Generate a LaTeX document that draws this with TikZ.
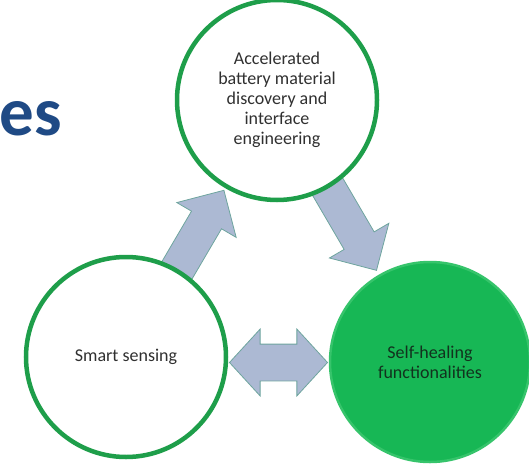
\documentclass[tikz,border=0pt]{standalone}
\usepackage{fontspec}
\setmainfont{Carlito}
\usetikzlibrary{shapes.arrows, calc, backgrounds}
\definecolor{ringgreen}{HTML}{1E9E4A}
\definecolor{fillgreen}{HTML}{17B755}
\definecolor{edgegreen}{HTML}{36C46B}
\definecolor{arrowblue}{RGB}{172,185,211}
\definecolor{arrowedge}{RGB}{110,165,158}
\definecolor{titleblue}{HTML}{1F4A85}
\definecolor{textgray}{HTML}{303030}
\definecolor{textdark}{HTML}{12321E}
\tikzstyle{ring} = [circle, minimum size=200pt, inner sep=0pt, draw=ringgreen, line width=4.5pt, fill=white, text=textgray, align=center, font=\fontsize{18}{20}\selectfont]
\tikzstyle{fullring} = [ring, draw=edgegreen, line width=2.5pt, fill=fillgreen, text=textdark]
\tikzstyle{block} = [single arrow, draw=arrowedge, fill=arrowblue, line width=0.8pt, inner xsep=0pt, inner ysep=17pt, minimum height=98pt, single arrow head extend=17pt, single arrow tip angle=90]
\tikzstyle{twoway} = [double arrow, draw=arrowedge, fill=arrowblue, line width=0.8pt, inner xsep=0pt, inner ysep=18pt, minimum height=98pt, double arrow head extend=15pt, double arrow tip angle=95]

\begin{document}
\begin{tikzpicture}[x=1pt, y=-1pt]
\useasboundingbox (0,0) rectangle (529,468);

\node (title) [anchor=base east, inner sep=0pt, text=titleblue, font=\fontsize{69}{69}\bfseries\selectfont] at (62,135) {es};

\node (accel) [ring] at (277,100) {Accelerated\\battery material\\discovery and\\interface\\engineering};
\node (smart) [ring] at (126,357) {Smart sensing};
\node (heal) [fullring] at (430,362) {Self-healing\\functionalities};

\begin{scope}[on background layer]
\node (up) [block, rotate=59.6] at ($(smart)!0.455!(accel)$) {};
\node (down) [block, rotate=-59.7] at ($(accel)!0.46!(heal)$) {};
\node (both) [twoway, yshift=-3pt] at ($(smart.east)!0.5!(heal.west)$) {};
\end{scope}

\end{tikzpicture}
\end{document}
